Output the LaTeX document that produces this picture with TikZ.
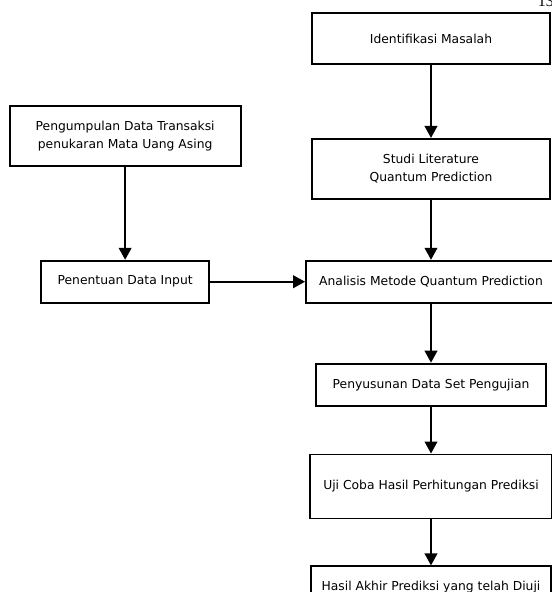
\documentclass[tikz,border=0pt]{standalone}
\usepackage{fontspec}
\usepackage{tikz}
\usetikzlibrary{positioning,arrows.meta}
\newfontfamily\boxfont{DejaVu Sans}
\newfontfamily\pagefont{Liberation Serif}

\begin{document}
\begin{tikzpicture}[>={Triangle[length=9pt,width=9.5pt]},
                    every node/.style={draw, line width=1.4pt, align=center, inner sep=2pt,
                                       minimum height=31.5pt,
                                       font=\boxfont\fontsize{9.25pt}{13.5pt}\selectfont},
                    flow/.style={->, line width=1.4pt}]
\useasboundingbox (0,0) rectangle (413.25pt,-444pt);
\node[draw=none, anchor=base west, inner sep=0pt,
      font=\pagefont\fontsize{12pt}{14pt}\selectfont] (pagenum) at (402.75pt,-5.25pt) {13};
\node[minimum width=178.5pt, minimum height=38.25pt] (idm) at (323.25pt,-28.875pt) {Identifikasi Masalah};
\node[below=54.75pt of idm, minimum width=178.5pt, minimum height=45pt] (studi) {Studi Literature\\ Quantum Prediction};
\node[below=45pt of studi, minimum width=187.5pt] (analisis) {Analisis Metode Quantum Prediction};
\node[below=44.25pt of analisis, minimum width=172.5pt] (susun) {Penyusunan Data Set Pengujian};
\node[below=35.25pt of susun, minimum width=181.5pt, minimum height=48pt] (ujicoba) {Uji Coba Hasil Perhitungan Prediksi};
\node[below=34.5pt of ujicoba, minimum width=180pt] (hasil) {Hasil Akhir Prediksi yang telah Diuji};
\node[left=71.25pt of analisis, minimum width=126pt] (input) {Penentuan Data Input};
\node[above=69.75pt of input, minimum width=173.25pt, minimum height=45pt] (kumpul) {Pengumpulan Data Transaksi\\ penukaran Mata Uang Asing};
\draw[flow] (idm) -- (studi);
\draw[flow] (studi) -- (analisis);
\draw[flow] (analisis) -- (susun);
\draw[flow] (susun) -- (ujicoba);
\draw[flow] (ujicoba) -- (hasil);
\draw[flow] (kumpul) -- (input);
\draw[flow] (input) -- (analisis);
\end{tikzpicture}
\end{document}
